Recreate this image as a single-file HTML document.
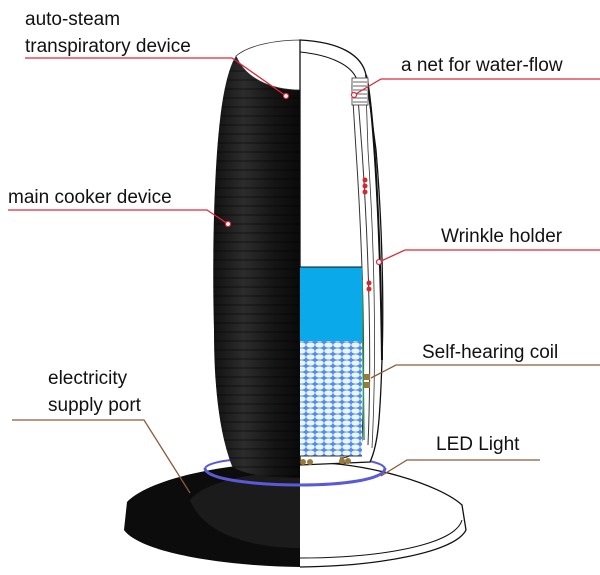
<!DOCTYPE html>
<html><head><style>
html,body{margin:0;padding:0;background:#fff;width:600px;height:575px;overflow:hidden}
svg{display:block}
text{font-family:"Liberation Sans",sans-serif;font-size:19px;fill:#111}
</style></head><body>
<svg width="600" height="575" viewBox="0 0 600 575" xmlns="http://www.w3.org/2000/svg">
<defs>
<linearGradient id="bk" x1="0" x2="1" y1="0" y2="0">
<stop offset="0" stop-color="#111"/><stop offset="0.35" stop-color="#2c2c2c"/><stop offset="0.7" stop-color="#151515"/><stop offset="1" stop-color="#0a0a0a"/>
</linearGradient>
<pattern id="rib" width="10" height="9" patternUnits="userSpaceOnUse">
<line x1="0" y1="8" x2="10" y2="8" stroke="#000" stroke-width="1.5" opacity="0.35"/>
</pattern>
<pattern id="beads" width="9" height="6" patternUnits="userSpaceOnUse">
<rect width="9" height="6" fill="#5a8ae8"/><ellipse cx="4.5" cy="3" rx="4.2" ry="2.6" fill="#e6f7ff"/>
</pattern>
</defs>
<!-- base black left half -->
<path d="M300 462 C230 462 150 478 127 502 L124 530 C140 552 220 566 300 567 Z" fill="#0c0c0c"/>
<path d="M300 472 C250 472 205 482 190 500 C205 538 260 548 300 548 Z" fill="#262626" opacity="0.6"/>
<!-- base white right half -->
<path d="M300 462 C370 462 440 485 462 505 L466 530 C455 552 380 566 300 567" fill="#fff" stroke="#111" stroke-width="1.3"/>
<path d="M300 558 C380 558 455 545 462 520" fill="none" stroke="#111" stroke-width="1"/>
<!-- LED ring -->
<path d="M205 468 C205 480 260 485 300 485 C340 485 385 480 385 468" fill="none" stroke="#5a5ad8" stroke-width="3"/>
<path d="M205 468 C210 460 250 457 300 457 C350 457 380 460 385 468" fill="none" stroke="#5a5ad8" stroke-width="2"/>
<!-- black body -->
<path d="M300 40 L300 478 C270 478 240 474 232 466 C222 440 214 400 214 330 C212 260 214 170 220 120 C224 85 230 65 236 56 C250 45 280 40 300 40 Z" fill="url(#bk)"/>
<path d="M300 40 L300 478 C270 478 240 474 232 466 C222 440 214 400 214 330 C212 260 214 170 220 120 C224 85 230 65 236 56 Z" fill="url(#rib)"/>
<!-- top ellipse (white inner) -->
<path d="M236 56 C250 44 280 40 300 40 L300 90 C270 90 245 78 236 56 Z" fill="#fff" stroke="#333" stroke-width="0.8"/>
<!-- right white cutaway -->
<path d="M300 40 C340 42 362 55 366 75 L376 150 C382 220 384 300 382 360 C380 420 378 445 370 462 L300 465 Z" fill="#fff" stroke="#111" stroke-width="1.3"/>
<path d="M300 52 C330 55 352 65 357 80 L356 92" fill="none" stroke="#111" stroke-width="1"/>
<path d="M366 75 C372 100 380 200 382 360" fill="none" stroke="#111" stroke-width="2"/>
<path d="M352 85 L356 150 C362 240 366 350 362 440 C360 452 350 458 340 458" fill="none" stroke="#333" stroke-width="1"/>
<path d="M357 85 L362 150 C368 240 372 350 368 445" fill="none" stroke="#333" stroke-width="1"/>
<path d="M366 90 L368 150 C374 240 377 350 372 448" fill="none" stroke="#333" stroke-width="0.8"/>
<path d="M362 280 L364 440" stroke="#2a9a5a" stroke-width="1.5"/>
<rect x="352" y="78" width="16" height="27" fill="#fff" stroke="#333" stroke-width="0.8"/>
<path d="M353 82h14M353 86h14M353 90h14M353 94h14M353 98h14M353 102h14" stroke="#666" stroke-width="1"/>
<!-- water -->
<rect x="300" y="267" width="62" height="74" fill="#09a9ea"/>
<rect x="300" y="341" width="62" height="115" fill="url(#beads)"/>
<line x1="300" y1="267" x2="362" y2="267" stroke="#111" stroke-width="1"/>
<path d="M300 456 L362 456" stroke="#333"/>
<!-- dots -->
<g fill="#d8262c"><circle cx="365" cy="180" r="2.5"/><circle cx="365" cy="186" r="2.5"/><circle cx="365" cy="192" r="2.5"/><circle cx="369" cy="283" r="2.5"/><circle cx="369" cy="289" r="2.5"/></g>
<g fill="#9a7a3a"><rect x="364" y="374" width="6" height="6"/><rect x="364" y="382" width="6" height="6"/><circle cx="303" cy="462" r="3"/><circle cx="310" cy="462" r="3"/><circle cx="342" cy="461" r="3"/><circle cx="348" cy="461" r="3"/></g>
<!-- leader lines -->
<g fill="none" stroke="#e0283a" stroke-width="1.3">
<polyline points="25,58 232,58 286,96"/>
<polyline points="600,79 381,79 354,95"/>
<polyline points="8,210 207,210 228,224"/>
<polyline points="600,250 405,250 379,262"/>
</g>
<g fill="none" stroke="#8a5a3a" stroke-width="1.3">
<polyline points="600,365 396,365 371,378"/>
<polyline points="540,460 407,460 381,476"/>
<polyline points="12,420 144,420 190,493"/>
</g>
<g fill="#fff" stroke="#e0283a" stroke-width="1.2"><circle cx="286" cy="96" r="2.5"/><circle cx="354" cy="95" r="2.5"/><circle cx="228" cy="224" r="2.5"/><circle cx="379" cy="262" r="2.5"/></g>
<!-- labels -->
<text x="25" y="25">auto-steam</text>
<text x="25" y="52">transpiratory device</text>
<text x="401" y="71">a net for water-flow</text>
<text x="8" y="203">main cooker device</text>
<text x="441" y="242">Wrinkle holder</text>
<text x="422" y="358">Self-hearing coil</text>
<text x="48" y="384">electricity</text>
<text x="48" y="411">supply port</text>
<text x="436" y="450">LED Light</text>
</svg>
</body></html>
